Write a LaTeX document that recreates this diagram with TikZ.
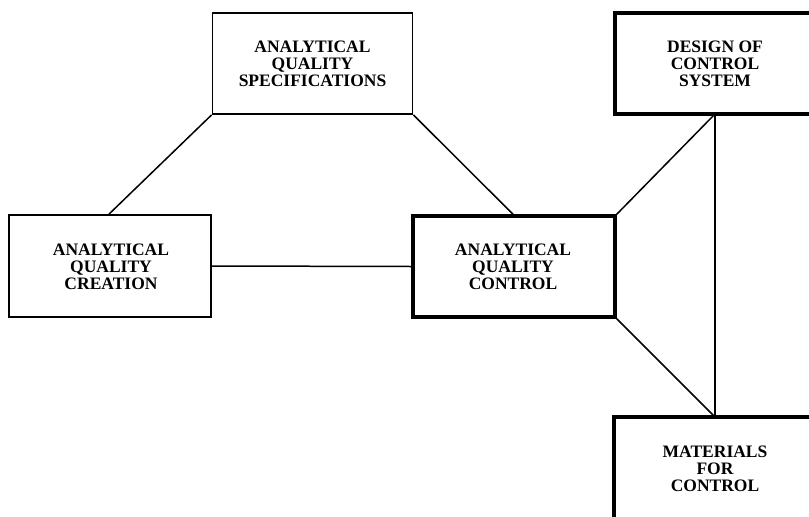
\documentclass[tikz,border=0pt]{standalone}
\usepackage{fontspec}
\setmainfont{Liberation Serif}
\begin{document}
\begin{tikzpicture}[x=1pt,y=-1pt,
  lbl/.style={font=\fontsize{17.5}{17}\selectfont\bfseries,align=center,inner sep=0pt},
  thinbox/.style={draw,line width=1.8pt,inner sep=0pt},
  thickbox/.style={draw,line width=3.5pt,inner sep=0pt},
  conn/.style={line width=1.5pt}]
\useasboundingbox (0,0) rectangle (809,517);
\clip (0,0) rectangle (809,517);
\node[thinbox,minimum width=200pt,minimum height=101pt] (spec) at (312.5,63.5) {};
\node[lbl] (spectext) at (312.5,64) {ANALYTICAL\\QUALITY\\SPECIFICATIONS};
\node[thinbox,minimum width=202pt,minimum height=102pt] (crea) at (110,266) {};
\node[lbl] (creatext) at (111,267) {ANALYTICAL\\QUALITY\\CREATION};
\node[thickbox,minimum width=202pt,minimum height=101pt] (ctrl) at (514,266.5) {};
\node[lbl] (ctrltext) at (513,267) {ANALYTICAL\\QUALITY\\CONTROL};
\node[thickbox,minimum width=230pt,minimum height=101pt] (des) at (730,63.5) {};
\node[lbl] (destext) at (715,64) {DESIGN OF\\CONTROL\\SYSTEM};
\node[thickbox,minimum width=230pt,minimum height=150pt] (mat) at (729,492) {};
\node[lbl] (mattext) at (715,469) {MATERIALS\\FOR\\CONTROL};
\coordinate (d) at (715,114);
\coordinate (m) at (715,417);
\draw[conn] (spec.south west) -- ([xshift=-1pt]crea.north);
\draw[conn] (spec.south east) -- ([xshift=-1pt]ctrl.north);
\draw[conn] (crea.east) -- (ctrl.west);
\draw[conn] (ctrl.north east) -- (d);
\draw[conn] (d) -- (m);
\draw[conn] (ctrl.south east) -- (m);
\end{tikzpicture}
\end{document}
